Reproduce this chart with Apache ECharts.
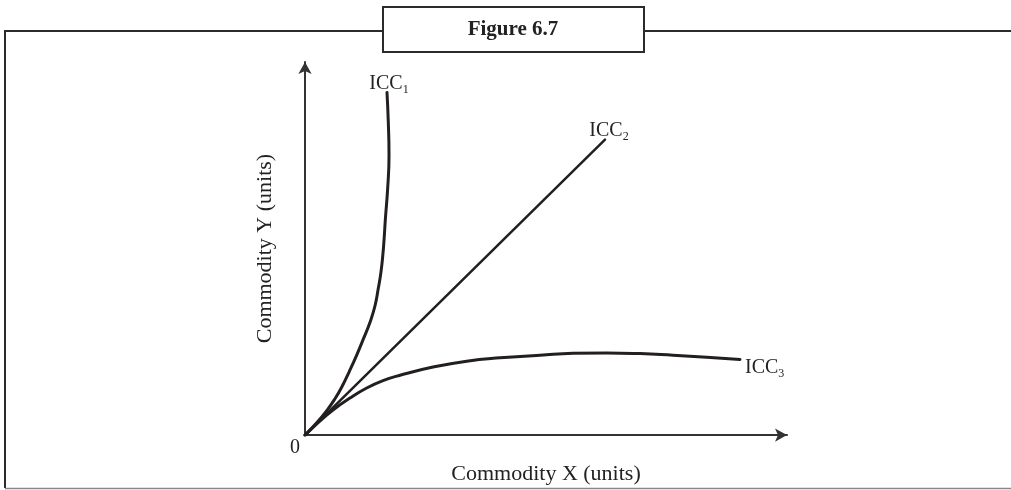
<!DOCTYPE html>
<html>
<head>
<meta charset="utf-8">
<script src="https://cdn.jsdelivr.net/npm/echarts@6/dist/echarts.min.js"></script>
<style>html,body{margin:0;padding:0;background:#fff}#c{width:1011px;height:490px}</style>
</head>
<body>
<div id="c"></div>
<script>
var title = 'Figure 6.7';
var xName = 'Commodity X (units)';
var yName = 'Commodity Y (units)';
var originLabel = '0';
var seriesNames = ['ICC1', 'ICC2', 'ICC3'];
var icc1X = [0, 2.34, 4.52, 6.22, 7.63, 9.21, 10.77, 12.20, 13.49, 14.54, 15.19, 15.73, 16.12, 16.43, 16.66, 17.16, 17.43, 17.28, 17.01];
var icc1Y = [0, 3.16, 6.58, 9.74, 12.89, 17.11, 21.58, 26.05, 30.26, 34.74, 39.21, 43.42, 47.89, 52.89, 57.63, 66.32, 75.00, 83.95, 91.84];
var icc2X = [0, 62.24];
var icc2Y = [0, 79.21];
var icc3X = [0, 2.90, 5.81, 9.34, 12.80, 16.18, 19.71, 26.56, 33.55, 40.46, 48.76, 55.60, 62.59, 69.50, 76.35, 83.34, 90.25];
var icc3Y = [0, 3.55, 6.74, 9.95, 12.63, 14.61, 16.05, 18.24, 19.82, 20.71, 21.39, 21.92, 22.03, 21.84, 21.39, 20.87, 20.26];

var FONT = '"Liberation Serif", "DejaVu Serif", serif';
var INK = '#231f20';

function pairs(xs, ys) { return xs.map(function (x, i) { return [x, ys[i]]; }); }
function withEndLabel(pts, name, pos, dist, off) {
  return pts.map(function (p, i) {
    if (i === pts.length - 1) {
      return { value: p, label: { show: true, position: pos, distance: dist, offset: off,
        formatter: '{m|' + name.slice(0, 3) + '}{s|' + name.slice(3) + '}' } };
    }
    return { value: p };
  });
}
var rich = {
  m: { fontFamily: FONT, fontSize: 20, color: '#222' },
  s: { fontFamily: FONT, fontSize: 12, color: '#222', padding: [12, 0, 0, 0] }
};
function lineSeries(name, pts, width, pos, dist, off, smooth) {
  return {
    type: 'line', name: name, data: withEndLabel(pts, name, pos, dist, off),
    smooth: smooth, symbol: 'circle', symbolSize: 0, showSymbol: true, showAllSymbol: true,
    lineStyle: { color: INK, width: width, cap: 'round', join: 'round' }, itemStyle: { color: INK },
    label: { rich: rich }, silent: true, animation: false
  };
}

var chart = echarts.init(document.getElementById('c'), null, { renderer: 'canvas' });
chart.setOption({
  animation: false,
  backgroundColor: '#fff',
  grid: { left: 305, right: 224, top: 62, bottom: 48, containLabel: false },
  xAxis: {
    type: 'value', min: 0, max: 100, interval: 100,
    name: xName, nameLocation: 'middle', nameGap: 20,
    nameTextStyle: { fontFamily: FONT, fontSize: 22, color: '#222' },
    axisLine: { show: true, lineStyle: { color: '#333', width: 2 }, symbol: ['none', 'arrow'], symbolSize: [10, 12] },
    axisTick: { show: false }, splitLine: { show: false },
    axisLabel: { show: true, showMinLabel: true, margin: 0, align: 'right', padding: [3, 5, 0, 0],
      fontFamily: FONT, fontSize: 20, color: '#222',
      formatter: function (v) { return v === 0 ? originLabel : ''; } }
  },
  yAxis: {
    type: 'value', min: 0, max: 100, interval: 100,
    name: yName, nameLocation: 'middle', nameGap: 29,
    nameTextStyle: { fontFamily: FONT, fontSize: 22, color: '#222' },
    axisLine: { show: true, lineStyle: { color: '#333', width: 2 }, symbol: ['none', 'arrow'], symbolSize: [10, 12] },
    axisTick: { show: false }, splitLine: { show: false }, axisLabel: { show: false }
  },
  series: [
    lineSeries(seriesNames[0], pairs(icc1X, icc1Y), 3, 'top', 3, [2, 6], 0.5),
    lineSeries(seriesNames[1], pairs(icc2X, icc2Y), 2.5, 'top', 4, [4, 7], false),
    lineSeries(seriesNames[2], pairs(icc3X, icc3Y), 3, 'right', 5, [0, 8], 0.5)
  ],
  graphic: [
    { type: 'polyline', silent: true, shape: { points: [[1011, 31], [5, 31], [5, 488]] },
      style: { stroke: '#2b2b2b', lineWidth: 2, fill: null } },
    { type: 'line', silent: true, shape: { x1: 5, y1: 488.5, x2: 1011, y2: 488.5 },
      style: { stroke: '#888', lineWidth: 1.5 } },
    { type: 'rect', silent: true, shape: { x: 383, y: 7, width: 261, height: 45 },
      style: { fill: '#fff', stroke: '#2b2b2b', lineWidth: 2 } },
    { type: 'text', silent: true, x: 513, y: 30,
      style: { text: title, fontFamily: FONT, fontWeight: 'bold', fontSize: 21, fill: '#222',
        align: 'center', verticalAlign: 'middle' } }
  ]
});
</script>
</body>
</html>
